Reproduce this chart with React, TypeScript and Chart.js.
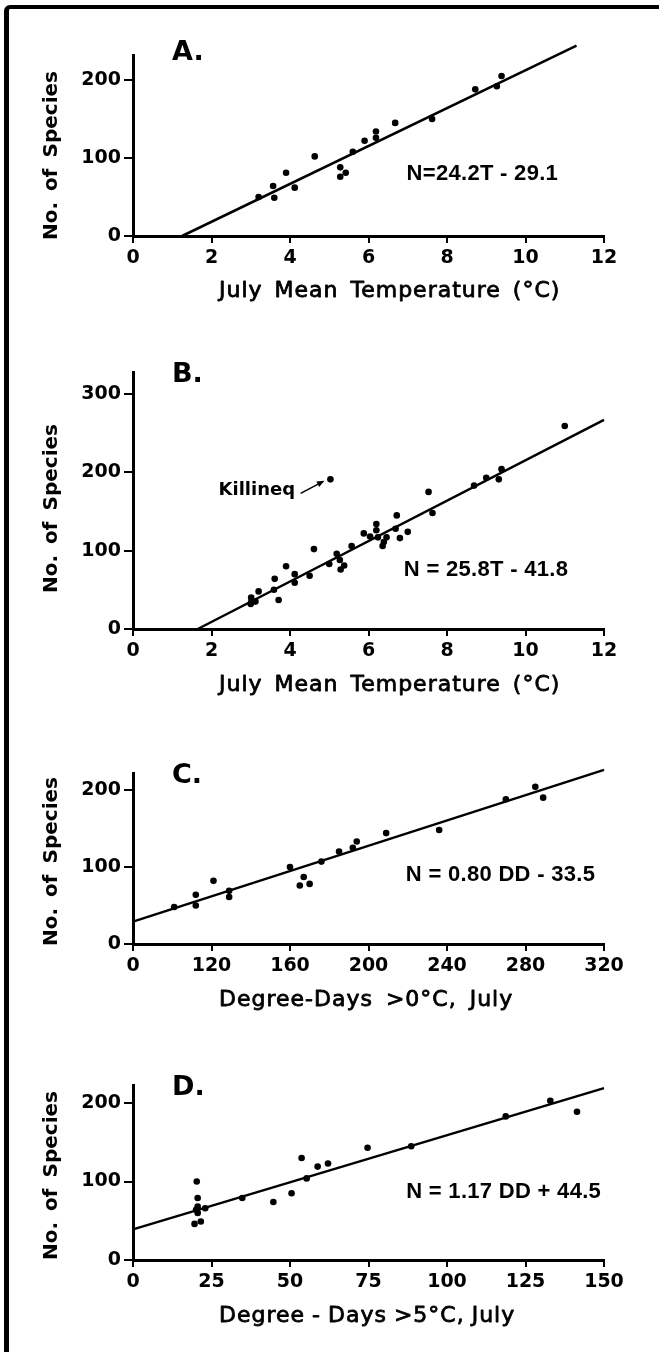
import React, { useEffect, useRef } from 'react';
import { Chart, registerables } from 'chart.js';

Chart.register(...registerables);

// ---------- Panel A ----------
const aTemp = [3.2, 3.57, 3.6, 3.9, 4.12, 4.63, 5.28, 5.28, 5.42, 5.6, 5.9, 6.19, 6.19, 6.68, 7.62, 8.72, 9.27, 9.39];
const aSpecies = [50, 64, 49, 81, 62, 102, 88, 76, 81, 108, 122, 134, 126, 145, 150, 188, 192, 205];
const aLineX = [1.25, 11.3];
const aLineY = [0, 244];
const aXTicks = [0, 2, 4, 6, 8, 10, 12];
const aXTickLabels = ['0', '2', '4', '6', '8', '10', '12'];
const aYTicks = [0, 100, 200];
const aYTickLabels = ['0', '100', '200'];

// ---------- Panel B ----------
const bTemp = [11.0, 5.03, 8.69, 9.0, 9.39, 9.32, 7.53, 7.63, 6.72, 6.69, 7.0, 6.8, 6.2, 6.2, 5.88, 6.04, 6.24, 6.46, 6.39, 6.36, 5.57, 4.61, 5.19, 5.27, 5.0, 5.38, 5.29, 3.9, 4.12, 4.12, 4.5, 3.61, 3.59, 3.2, 3.71, 3.01, 3.01, 3.12, 3.0];
const bSpecies = [259, 191, 183, 193, 204, 191, 175, 148, 145, 128, 124, 116, 134, 126, 122, 118, 117, 117, 111, 106, 106, 102, 96, 88, 83, 81, 76, 80, 70, 59, 68, 64, 50, 48, 37, 40, 34, 35, 32];
const bLineX = [1.65, 12];
const bLineY = [0, 267];
const bXTicks = [0, 2, 4, 6, 8, 10, 12];
const bXTickLabels = ['0', '2', '4', '6', '8', '10', '12'];
const bYTicks = [0, 100, 200, 300];
const bYTickLabels = ['0', '100', '200', '300'];

// ---------- Panel C ----------
const cDegreeDays = [101, 112, 112, 121, 129, 129, 160, 167, 165, 170, 176, 185, 192, 194, 209, 236, 270, 285, 289];
const cSpecies = [48, 64, 50, 82, 69, 61, 100, 87, 76, 78, 107, 120, 125, 133, 144, 148, 188, 204, 190];
const cLineX = [80, 320];
const cLineY = [29, 226];
const cXTicks = [80, 120, 160, 200, 240, 280, 320];
const cXTickLabels = ['0', '120', '160', '200', '240', '280', '320'];
const cYTicks = [0, 100, 200];
const cYTickLabels = ['0', '100', '200'];

// ---------- Panel D ----------
const dDegreeDays = [20.3, 20.6, 20.6, 20.1, 20.6, 23, 19.6, 21.6, 34.8, 44.7, 50.5, 53.7, 55.3, 58.8, 62.1, 74.7, 88.6, 118.7, 132.9, 141.4];
const dSpecies = [100, 79, 68, 64, 60, 66, 46, 49, 79, 74, 85, 130, 104, 119, 123, 143, 145, 183, 203, 189];
const dLineX = [0, 150];
const dLineY = [39, 219];
const dXTicks = [0, 25, 50, 75, 100, 125, 150];
const dXTickLabels = ['0', '25', '50', '75', '100', '125', '150'];
const dYTicks = [0, 100, 200];
const dYTickLabels = ['0', '100', '200'];

const Y_TITLE = 'No. of Species';

type Panel = {
  letter: string;
  top: number;
  height: number;
  padTop: number;
  xScaleH: number;
  xMin: number;
  xMax: number;
  yMax: number;
  xs: number[];
  ys: number[];
  lx: number[];
  ly: number[];
  xTicks: number[];
  xTickLabels: string[];
  yTicks: number[];
  yTickLabels: string[];
  eq: string;
  eqX: number;
  eqY: number;
  xTitle: string;
  xTitleWS: number;
  letterDy: number;
  yTitleDy: number;
  xTitleDy: number;
  killineq?: boolean;
};

const panels: Panel[] = [
  {
    letter: 'A', top: 20, height: 284, padTop: 35, xScaleH: 68,
    xMin: 0, xMax: 12, yMax: 232,
    xs: aTemp, ys: aSpecies, lx: aLineX, ly: aLineY,
    xTicks: aXTicks, xTickLabels: aXTickLabels, yTicks: aYTicks, yTickLabels: aYTickLabels,
    eq: 'N=24.2T - 29.1', eqX: 6.97, eqY: 80,
    xTitle: 'July Mean Temperature (°C)', xTitleWS: 4, letterDy: 5, yTitleDy: 10, xTitleDy: 55,
  },
  {
    letter: 'B', top: 340, height: 357, padTop: 32, xScaleH: 68,
    xMin: 0, xMax: 12, yMax: 328,
    xs: bTemp, ys: bSpecies, lx: bLineX, ly: bLineY,
    xTicks: bXTicks, xTickLabels: bXTickLabels, yTicks: bYTicks, yTickLabels: bYTickLabels,
    eq: 'N = 25.8T - 41.8', eqX: 6.9, eqY: 76,
    xTitle: 'July Mean Temperature (°C)', xTitleWS: 4, letterDy: 10, yTitleDy: 8, xTitleDy: 56,
    killineq: true,
  },
  {
    letter: 'C', top: 740, height: 272, padTop: 33, xScaleH: 68,
    xMin: 80, xMax: 320, yMax: 222,
    xs: cDegreeDays, ys: cSpecies, lx: cLineX, ly: cLineY,
    xTicks: cXTicks, xTickLabels: cXTickLabels, yTicks: cYTicks, yTickLabels: cYTickLabels,
    eq: 'N = 0.80 DD - 33.5', eqX: 219, eqY: 90,
    xTitle: 'Degree-Days >0°C, July', xTitleWS: 5, letterDy: 10, yTitleDy: 3, xTitleDy: 56,
  },
  {
    letter: 'D', top: 1050, height: 280, padTop: 35, xScaleH: 70,
    xMin: 0, xMax: 150, yMax: 223,
    xs: dDegreeDays, ys: dSpecies, lx: dLineX, ly: dLineY,
    xTicks: dXTicks, xTickLabels: dXTickLabels, yTicks: dYTicks, yTickLabels: dYTickLabels,
    eq: 'N = 1.17 DD + 44.5', eqX: 87, eqY: 87,
    xTitle: 'Degree - Days >5°C, July', xTitleWS: -1, letterDy: 10, yTitleDy: 3, xTitleDy: 56,
  },
];

const TICK_FONT = { family: '"DejaVu Sans", sans-serif', weight: 'bold' as const, size: 19 };

function makeAnnotPlugin(p: Panel) {
  return {
    id: 'annot' + p.letter,
    afterDraw(chart: any) {
      const { ctx, chartArea, scales } = chart;
      const sx = scales.x;
      const sy = scales.y;
      ctx.save();
      ctx.fillStyle = '#000';
      ctx.strokeStyle = '#000';

      // panel letter
      ctx.font = 'bold 27px "DejaVu Sans"';
      ctx.textAlign = 'left';
      ctx.textBaseline = 'alphabetic';
      ctx.fillText(p.letter + '.', chartArea.left + 39, chartArea.top + p.letterDy);

      // regression equation
      ctx.save();
      ctx.font = 'bold 22px "Liberation Sans"';
      (ctx as any).letterSpacing = '0.3px';
      ctx.textBaseline = 'middle';
      ctx.fillText(p.eq, sx.getPixelForValue(p.eqX), sy.getPixelForValue(p.eqY));
      ctx.restore();

      // y title
      ctx.save();
      ctx.translate(52, (chartArea.top + chartArea.bottom) / 2 + p.yTitleDy);
      ctx.rotate(-Math.PI / 2);
      ctx.textAlign = 'center';
      ctx.textBaseline = 'middle';
      ctx.font = 'bold 20px "DejaVu Sans"';
      (ctx as any).wordSpacing = '4px';
      ctx.fillText(Y_TITLE, 0, 0);
      ctx.restore();

      // x title
      ctx.save();
      ctx.font = '22px "DejaVu Sans"';
      (ctx as any).letterSpacing = '1px';
      (ctx as any).wordSpacing = p.xTitleWS + 'px';
      ctx.textAlign = 'left';
      ctx.textBaseline = 'middle';
      ctx.lineWidth = 0.8;
      ctx.lineJoin = 'round';
      const tx = chartArea.left + 86;
      const ty = chartArea.bottom + p.xTitleDy;
      ctx.fillText(p.xTitle, tx, ty);
      ctx.strokeText(p.xTitle, tx, ty);
      ctx.restore();

      if (p.killineq) {
        ctx.font = 'bold 18px "DejaVu Sans"';
        ctx.textAlign = 'left';
        ctx.textBaseline = 'alphabetic';
        ctx.fillText('Killineq', sx.getPixelForValue(2.18), sy.getPixelForValue(171));
        const x1 = sx.getPixelForValue(4.27);
        const y1 = sy.getPixelForValue(173);
        const x2 = sx.getPixelForValue(4.85);
        const y2 = sy.getPixelForValue(188.5);
        ctx.lineWidth = 1.5;
        ctx.beginPath();
        ctx.moveTo(x1, y1);
        ctx.lineTo(x2, y2);
        ctx.stroke();
        const ang = Math.atan2(y2 - y1, x2 - x1);
        const L = 7;
        ctx.beginPath();
        ctx.moveTo(x2 + 1, y2 - 0.5);
        ctx.lineTo(x2 - L * Math.cos(ang - 0.45), y2 - L * Math.sin(ang - 0.45));
        ctx.lineTo(x2 - L * Math.cos(ang + 0.45), y2 - L * Math.sin(ang + 0.45));
        ctx.closePath();
        ctx.fill();
      }
      ctx.restore();
    },
  };
}

function PanelChart({ p }: { p: Panel }) {
  const ref = useRef<HTMLCanvasElement | null>(null);
  useEffect(() => {
    if (!ref.current) return;
    const points = p.xs.map((x, i) => ({ x, y: p.ys[i] }));
    const line = p.lx.map((x, i) => ({ x, y: p.ly[i] }));
    const chart = new Chart(ref.current, {
      type: 'scatter',
      data: {
        datasets: [
          {
            data: points,
            backgroundColor: '#000',
            borderColor: '#000',
            borderWidth: 0,
            pointRadius: 3.3,
            pointHoverRadius: 3.3,
            clip: false,
          } as any,
          {
            data: line,
            showLine: true,
            borderColor: '#000',
            borderWidth: 2.5,
            pointRadius: 0,
            fill: false,
            clip: false,
          } as any,
        ],
      },
      options: {
        animation: false,
        responsive: false,
        events: [],
        layout: { padding: { left: 0, right: 55, top: p.padTop, bottom: 0 } },
        plugins: { legend: { display: false }, tooltip: { enabled: false } },
        scales: {
          x: {
            type: 'linear',
            min: p.xMin,
            max: p.xMax,
            afterBuildTicks: (s: any) => {
              s.ticks = p.xTicks.map((v) => ({ value: v }));
            },
            afterFit: (s: any) => {
              s.height = p.xScaleH;
            },
            ticks: {
              autoSkip: false,
              maxRotation: 0,
              padding: 4,
              color: '#000',
              font: TICK_FONT,
              callback: (_v: any, i: number) => p.xTickLabels[i],
            },
            grid: { drawOnChartArea: false, drawTicks: true, tickLength: 7, color: '#000', lineWidth: 2 },
            border: { display: true, color: '#000', width: 3 },
          },
          y: {
            type: 'linear',
            min: 0,
            max: p.yMax,
            afterBuildTicks: (s: any) => {
              s.ticks = p.yTicks.map((v) => ({ value: v }));
            },
            afterFit: (s: any) => {
              s.width = 133;
            },
            ticks: {
              padding: 3,
              color: '#000',
              font: TICK_FONT,
              callback: (_v: any, i: number) => p.yTickLabels[i],
            },
            grid: { drawOnChartArea: false, drawTicks: true, tickLength: 9, color: '#000', lineWidth: 2 },
            border: { display: true, color: '#000', width: 3 },
          },
        },
      },
      plugins: [makeAnnotPlugin(p)],
    });
    return () => chart.destroy();
  }, [p]);
  return (
    <canvas
      ref={ref}
      width={659}
      height={p.height}
      style={{ position: 'absolute', left: 0, top: p.top, width: 659, height: p.height, display: 'block' }}
    />
  );
}

export default function App() {
  return (
    <div style={{ position: 'absolute', left: 0, top: 0, width: 659, height: 1352, background: '#fff', overflow: 'hidden' }}>
      <div
        style={{
          position: 'absolute',
          left: 4,
          top: 5,
          width: 700,
          height: 1400,
          borderTop: '4px solid #000',
          borderLeft: '5px solid #000',
          borderTopLeftRadius: 6,
        }}
      />
      {panels.map((p) => (
        <PanelChart key={p.letter} p={p} />
      ))}
    </div>
  );
}
